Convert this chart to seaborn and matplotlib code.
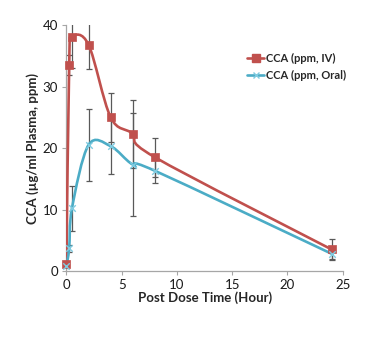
import numpy as np
import pandas as pd
import matplotlib
matplotlib.use("Agg")
import matplotlib.pyplot as plt
from matplotlib.path import Path
from matplotlib.patches import PathPatch
from matplotlib.lines import Line2D
import seaborn as sns

# Sampling times (hours) and mean CCA concentrations with SD
time_h = [0, 0.25, 0.5, 2, 4, 6, 8, 24]
iv_mean = [1.2, 33.5, 38.0, 36.8, 25.0, 22.3, 18.5, 3.5]
iv_sd = [0.3, 1.6, 5.0, 4.0, 4.0, 5.5, 3.2, 1.7]
oral_mean = [0.8, 3.7, 10.2, 20.5, 20.3, 17.3, 16.3, 2.8]
oral_sd = [0.3, 0.6, 3.7, 5.8, 4.5, 8.4, 2.0, 0.8]
series_names = ["CCA (ppm, IV)", "CCA (ppm, Oral)"]

sns.set_style("white")
plt.rcParams["font.family"] = ["Lato", "DejaVu Sans"]

RED = "#C0504D"
BLUE = "#4BACC6"
GREY = "#595959"

df = pd.concat([
    pd.DataFrame({"time": time_h, "conc": iv_mean, "sd": iv_sd, "route": series_names[0]}),
    pd.DataFrame({"time": time_h, "conc": oral_mean, "sd": oral_sd, "route": series_names[1]}),
])

fig = plt.figure(figsize=(3.84, 3.42), dpi=100)
ax = fig.add_axes([0.173, 0.2076, 0.7195, 0.7193])


def smooth_path(xs, ys):
    """Cubic Bezier path through the points with Catmull-Rom tangents."""
    pts = np.column_stack([xs, ys]).astype(float)
    n = len(pts)
    verts = [pts[0]]
    codes = [Path.MOVETO]
    for i in range(n - 1):
        p0 = pts[i - 1] if i > 0 else pts[i]
        p1 = pts[i]
        p2 = pts[i + 1]
        p3 = pts[i + 2] if i + 2 < n else pts[i + 1]
        c1 = p1 + (p2 - p0) / 6.0
        c2 = p2 - (p3 - p1) / 6.0
        verts += [c1, c2, p2]
        codes += [Path.CURVE4] * 3
    return Path(verts, codes)


colors = {series_names[0]: RED, series_names[1]: BLUE}

# error bars
for name, sub in df.groupby("route", sort=False):
    ax.errorbar(sub["time"], sub["conc"], yerr=sub["sd"], fmt="none",
                ecolor=GREY, elinewidth=0.9, capsize=2, capthick=0.9, zorder=2)

# smoothed lines
for name, sub in df.groupby("route", sort=False):
    patch = PathPatch(smooth_path(sub["time"].values, sub["conc"].values),
                      facecolor="none", edgecolor=colors[name], lw=1.9, zorder=3)
    ax.add_patch(patch)

# markers
sub_iv = df[df["route"] == series_names[0]]
sub_or = df[df["route"] == series_names[1]]
sns.scatterplot(data=sub_iv, x="time", y="conc", marker="s", color=RED, s=36,
                edgecolor=RED, linewidth=0.5, ax=ax, zorder=4, clip_on=False, legend=False)
sns.scatterplot(data=sub_or, x="time", y="conc", marker="x", color="#7FCBE0", s=22,
                linewidth=1.0, ax=ax, zorder=4, clip_on=False, legend=False)

ax.set_xlim(0, 25)
ax.set_ylim(0, 40)
ax.set_xticks([0, 5, 10, 15, 20, 25])
ax.set_yticks([0, 10, 20, 30, 40])
for s in ["top", "right"]:
    ax.spines[s].set_visible(False)
for s in ["left", "bottom"]:
    ax.spines[s].set_color("#A6A6A6")
    ax.spines[s].set_linewidth(0.9)
ax.tick_params(axis="both", which="major", length=3, width=0.8, color="#A6A6A6",
               labelsize=9.5, labelcolor="#1a1a1a", pad=3, direction="out",
               bottom=True, left=True)

ax.set_xlabel("Post Dose Time (Hour)", fontsize=9.5, fontweight="bold", labelpad=0)
ax.set_ylabel("CCA (µg/ml Plasma, ppm)", fontsize=9.5, fontweight="bold", labelpad=3)

handles = [
    Line2D([], [], color=RED, lw=1.9, marker="s", markersize=6, markeredgecolor=RED),
    Line2D([], [], color=BLUE, lw=1.9, marker="x", markersize=5, markeredgecolor="#7FCBE0"),
]
fig.legend(handles, series_names, loc="upper left", bbox_to_anchor=(0.618, 0.875),
           frameon=False, handlelength=1.5, handletextpad=0.15, labelspacing=0.55,
           prop={"size": 8, "weight": "bold"})

fig.savefig("out.png", dpi=100)
